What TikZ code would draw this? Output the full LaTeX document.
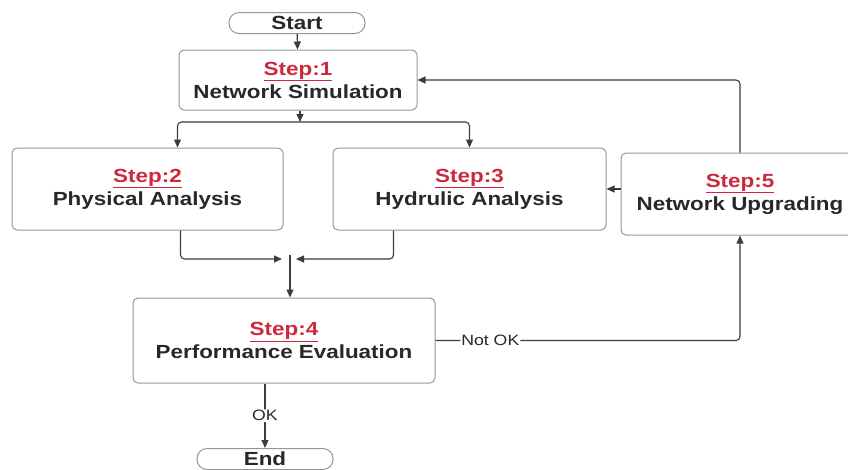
\documentclass[tikz,border=0pt]{standalone}
\usepackage{fontspec}
\setmainfont{Liberation Sans}[FakeStretch=1.18]
\usepackage{tikz}
\usetikzlibrary{arrows.meta,positioning}
\definecolor{StepRed}{RGB}{205,40,60}
\definecolor{BoxGray}{RGB}{150,150,150}
\definecolor{LineGray}{RGB}{60,60,60}
\definecolor{TextGray}{RGB}{40,40,40}
\newcommand{\steplbl}[1]{{\color{StepRed}\underline{Step:#1}}\\}
\tikzset{
  stepbox/.style={draw=BoxGray, line width=1pt, rounded corners=5pt, align=center,
                  inner sep=0pt, font=\fontsize{19}{23}\selectfont\bfseries, text=TextGray},
  term/.style={draw=BoxGray, line width=1pt, rounded corners=10pt, inner sep=0pt,
               minimum width=136pt, minimum height=21pt,
               font=\fontsize{19}{23}\selectfont\bfseries, text=TextGray},
  arr/.style={-{Triangle[length=8pt,width=7pt]}, line width=1.1pt, color=LineGray, rounded corners=4pt},
  lbl/.style={fill=white, inner sep=1pt, font=\fontsize{15}{18}\selectfont, text=TextGray}
}

\begin{document}
\begin{tikzpicture}[x=1pt,y=-1pt]
\useasboundingbox (0,0) rectangle (848,469);
\node[term] (start) at (297,23) {Start};
\node[stepbox, minimum width=238pt, minimum height=60pt] (s1) at (298,80) {\steplbl{1}Network Simulation};
\node[stepbox, minimum width=271pt, minimum height=82pt] (s2) at (147.5,189) {\steplbl{2}Physical Analysis};
\node[stepbox, minimum width=273pt, minimum height=82pt] (s3) at (469.5,189) {\steplbl{3}Hydrulic Analysis};
\node[stepbox, minimum width=238pt, minimum height=82pt] (s5) at (740,194) {\steplbl{5}Network Upgrading};
\node[stepbox, minimum width=302pt, minimum height=85pt] (s4) at (284,340.5) {\steplbl{4}Performance Evaluation};
\node[term] (end) at (265,459) {End};
\coordinate (j1) at (300,122);
\coordinate (j2) at (290,259);
% split after step 1
\draw[arr] (start) -- (s1);
\draw[arr] (s1.south -| j1) -- (j1);
\draw[arr] (j1) -| ([xshift=30pt]s2.north);
\draw[arr] (j1) -| (s3.north);
% merge into step 4
\draw[arr] ([xshift=33pt]s2.south) |- ([xshift=-8pt]j2);
\draw[arr] ([xshift=-76pt]s3.south) |- ([xshift=6pt]j2);
\draw[arr] ([yshift=4pt]j2) -- (j2 |- s4.north);
\draw[arr] (s4.south -| end) -- (end) node[lbl, midway] {OK};
% feedback loop
\draw[arr] (s4.east) -| (s5.south) node[lbl, pos=0.09] {Not OK};
\draw[arr] (s5.north) |- (s1.east);
\draw[arr] (s5.west |- s3.east) -- (s3.east);
\end{tikzpicture}
\end{document}
